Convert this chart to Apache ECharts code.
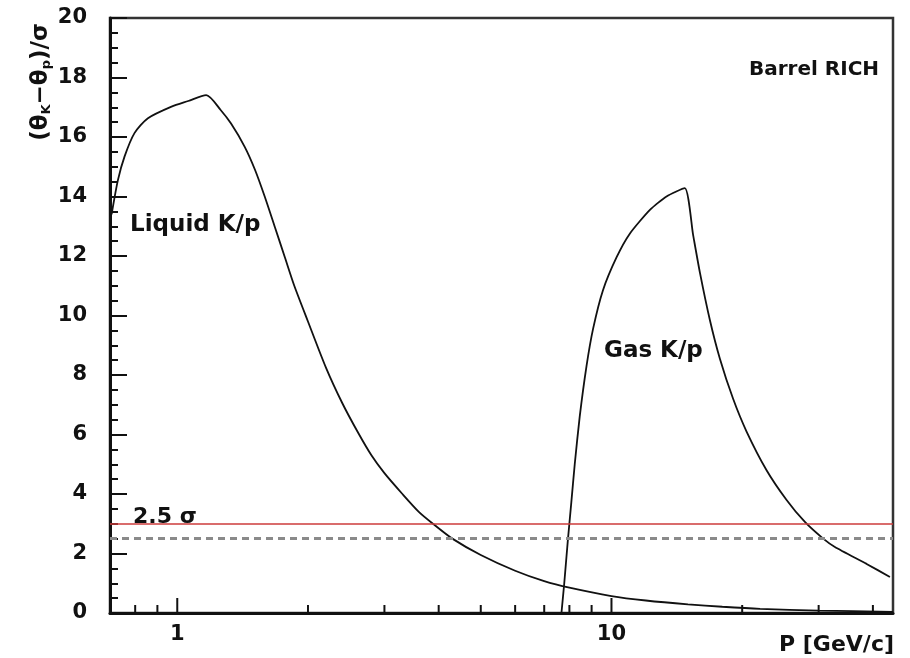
<!DOCTYPE html>
<html>
<head>
<meta charset="utf-8">
<script src="https://cdn.jsdelivr.net/npm/echarts@6/dist/echarts.min.js"></script>
<style>
  html, body { margin: 0; padding: 0; background: #fff; }
  #richChart { width: 910px; height: 658px; }
</style>
</head>
<body>
<div id="richChart"></div>
<script>
// momentum P [GeV/c] and separation (theta_K - theta_p)/sigma
const liquidP = [0.706, 0.73, 0.756, 0.797, 0.856, 0.97, 1.06, 1.166, 1.26, 1.33, 1.43, 1.51, 1.59, 1.68,
  1.77, 1.86, 2.0, 2.2, 2.4, 2.6, 2.8, 3.0, 3.3, 3.6, 3.88, 4.3, 5.0, 6.0, 7.0, 8.0, 10, 12, 15, 18, 22, 30, 44.5];
const liquidSep = [13.4, 14.55, 15.34, 16.13, 16.63, 17.02, 17.21, 17.41, 16.9, 16.45, 15.67, 14.9, 14.0, 12.95,
  11.95, 11.0, 9.8, 8.25, 7.05, 6.1, 5.3, 4.7, 4.0, 3.4, 3.0, 2.5, 1.95, 1.42, 1.07, 0.85, 0.57, 0.42, 0.29, 0.21, 0.14, 0.08, 0.04];

const gasP = [7.67, 7.785, 7.93, 8.08, 8.23, 8.45, 8.76, 9.07, 9.56, 10.27, 11.02, 12.26, 13.39, 14.75,
  15.42, 15.98, 16.85, 17.77, 19.06, 20.47, 22.76, 25.31, 27.89, 30.73, 32.7, 38.69, 43.78];
const gasSep = [0, 1.0, 2.4, 3.7, 5.0, 6.6, 8.3, 9.55, 10.85, 11.95, 12.75, 13.55, 14.0, 14.28,
  12.7, 11.45, 9.85, 8.55, 7.2, 6.1, 4.8, 3.8, 3.06, 2.5, 2.22, 1.65, 1.21];

// extra x ticks for the log axis (majors at decades)
const xTickVals = [0.8, 0.9, 1, 2, 3, 4, 5, 6, 7, 8, 9, 10, 20, 30, 40];
const xMajor = [1, 10];

const redLevel = 3;
const sigmaLevel = 2.5;

const zip = (xs, ys) => xs.map((x, i) => [x, ys[i]]);

const txtFont = 'DejaVu Sans, sans-serif';

let myChart = echarts.init(document.getElementById('richChart'), null, {renderer: 'canvas'});

let option = {
  animation: false,
  backgroundColor: '#fff',
  grid: {
    left: 110, right: 17, top: 18, bottom: 45,
    show: true, borderColor: '#333', borderWidth: 2.5
  },
  xAxis: {
    type: 'log',
    logBase: 10,
    min: 0.7,
    max: 44.5,
    axisLine: {show: true, lineStyle: {color: '#111', width: 3}},
    axisTick: {show: false},
    splitLine: {show: false},
    minorTick: {show: false},
    axisLabel: {
      color: '#111', fontSize: 21, fontWeight: 'bold', fontFamily: txtFont, margin: 11,
      showMinLabel: false, showMaxLabel: false,
      formatter: (v) => {
        for (const m of xMajor) {
          if (Math.abs(v - m) < 1e-6 * m) return String(m);
        }
        return '';
      }
    }
  },
  yAxis: {
    type: 'value',
    min: 0,
    max: 20,
    interval: 2,
    axisLine: {show: true, lineStyle: {color: '#111', width: 3}},
    axisTick: {show: true, inside: true, length: 17, lineStyle: {color: '#111', width: 2}},
    minorTick: {show: true, splitNumber: 4, length: 8, lineStyle: {color: '#111', width: 2}},
    splitLine: {show: false},
    axisLabel: {color: '#111', fontSize: 21, fontWeight: 'bold', fontFamily: txtFont, margin: 23}
  },
  series: [
    {
      name: 'Liquid K/p',
      type: 'line',
      data: zip(liquidP, liquidSep),
      showSymbol: false,
      smooth: 0.25,
      lineStyle: {color: '#111', width: 1.8},
      z: 3,
      markLine: {
        silent: true,
        symbol: ['none', 'none'],
        label: {show: false},
        data: [
          {yAxis: redLevel, lineStyle: {color: '#cc3b3b', width: 1.6, type: 'solid'}},
          {yAxis: sigmaLevel, lineStyle: {color: '#8a8a8a', width: 3, type: [7, 5]}}
        ]
      }
    },
    {
      name: 'Gas K/p',
      type: 'line',
      data: zip(gasP, gasSep),
      showSymbol: false,
      smooth: 0.2,
      lineStyle: {color: '#111', width: 1.8},
      z: 3
    },
    {
      // tick marks on the log axis
      type: 'custom',
      silent: true,
      clip: false,
      z: 5,
      data: xTickVals.map(v => [v, 0, xMajor.includes(v) ? 1 : 0]),
      renderItem: (params, api) => {
        const p = api.coord([api.value(0), 0]);
        const len = api.value(2) ? 15 : 8;
        return {
          type: 'line',
          shape: {x1: p[0], y1: p[1], x2: p[0], y2: p[1] - len},
          style: {stroke: '#111', lineWidth: 2}
        };
      }
    }
  ],
  graphic: [
    {
      type: 'text', x: 41, y: 82, rotation: Math.PI / 2,
      style: {
        text: '(θ{s|K}−θ{s|p})/σ',
        font: 'bold 23px ' + txtFont,
        fill: '#111', align: 'center', verticalAlign: 'middle',
        rich: {s: {fontSize: 13, fontWeight: 'bold', fontFamily: txtFont, padding: [11, 0, 0, 0]}}
      }
    },
    {
      type: 'text', x: 749, y: 70,
      style: {text: 'Barrel RICH', font: 'bold 20px ' + txtFont, fill: '#111', align: 'left', verticalAlign: 'middle'}
    },
    {
      type: 'text', x: 130, y: 225,
      style: {text: 'Liquid K/p', font: 'bold 23px ' + txtFont, fill: '#111', align: 'left', verticalAlign: 'middle'}
    },
    {
      type: 'text', x: 604, y: 351,
      style: {text: 'Gas K/p', font: 'bold 23px ' + txtFont, fill: '#111', align: 'left', verticalAlign: 'middle'}
    },
    {
      type: 'text', x: 133, y: 517,
      style: {text: '2.5 σ', font: 'bold 22px ' + txtFont, fill: '#111', align: 'left', verticalAlign: 'middle'}
    },
    {
      type: 'text', x: 894, y: 645,
      style: {text: 'P [GeV/c]', font: 'bold 22px ' + txtFont, fill: '#111', align: 'right', verticalAlign: 'middle'}
    }
  ]
};

myChart.setOption(option);
</script>
</body>
</html>
